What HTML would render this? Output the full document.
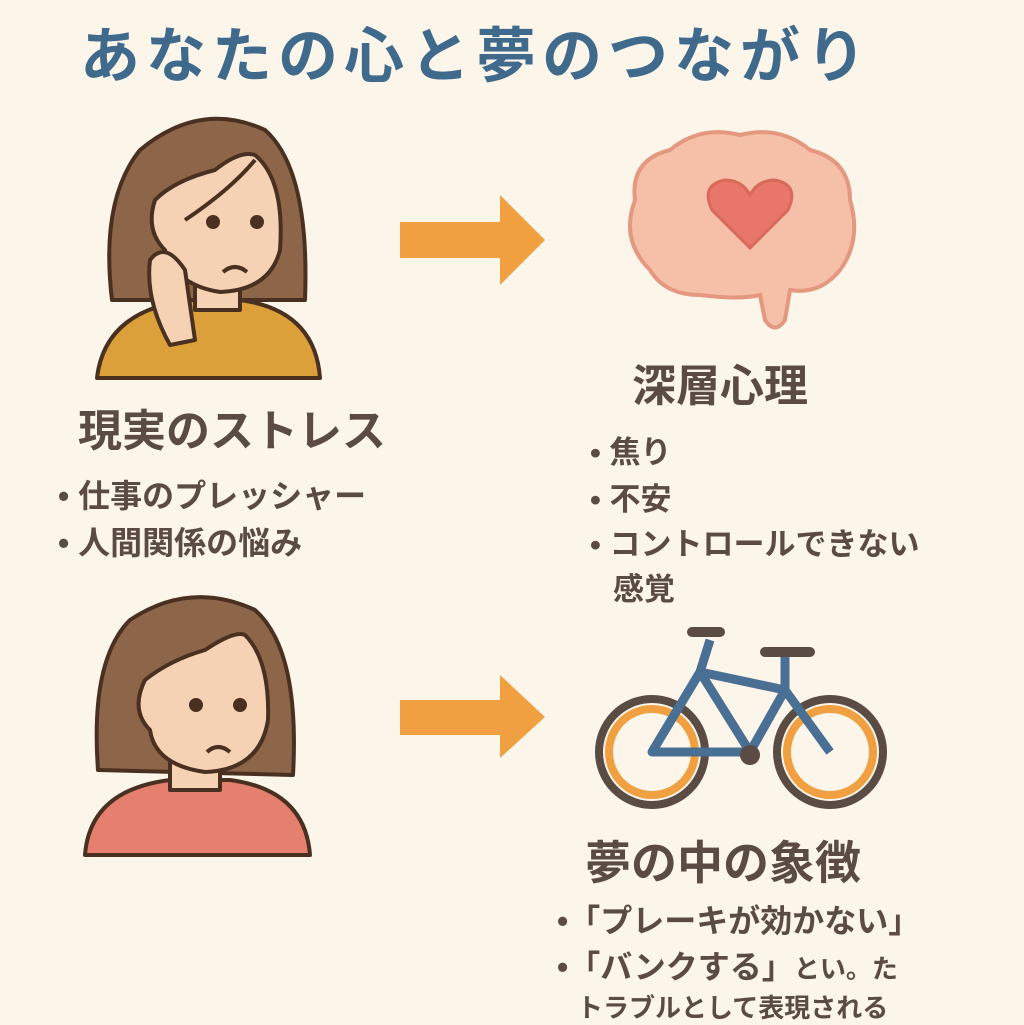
<!DOCTYPE html>
<html><head><meta charset="utf-8"><style>
body{margin:0;width:1024px;height:1024px;background:#fcf5ea;position:relative;overflow:hidden;font-family:"Liberation Sans","Noto Sans CJK JP",sans-serif;}
.t{position:absolute;white-space:nowrap;color:#5a4b44;font-weight:bold;}
</style></head><body>
<div class="t" style="left:80px;top:8px;font-size:60px;color:#3f6a8c;letter-spacing:6px">あなたの心と夢のつながり</div>

<svg width="1024" height="1024" style="position:absolute;left:0;top:0">
<g stroke="#4a3020" stroke-width="4" stroke-linejoin="round">
<path d="M112 300 Q100 200 140 150 Q200 100 265 130 Q310 170 305 300 Z" fill="#8d6548"/>
<path d="M97 378 Q105 310 190 300 L240 300 Q315 310 320 378 Z" fill="#dca03a"/>
<rect x="195" y="265" width="45" height="45" fill="#f6d2b4"/>
<path d="M155 200 Q175 180 215 170 Q240 150 255 155 Q285 180 280 250 Q270 290 220 292 Q175 285 165 250 Q145 230 155 200Z" fill="#f6d2b4"/>
<path d="M150 260 Q165 240 185 270 L195 340 L170 345 Q145 300 150 260Z" fill="#f6d2b4"/>
<path d="M185 220 Q230 190 255 160" fill="none"/>
<circle cx="213" cy="222" r="5" fill="#4a3020"/><circle cx="257" cy="222" r="5" fill="#4a3020"/>
<path d="M223 272 Q235 262 247 272" fill="none"/>
<path d="M98 770 Q90 660 130 620 Q190 580 255 610 Q300 650 293 775 Z" fill="#8d6548"/>
<path d="M85 855 Q90 790 170 780 L230 780 Q305 790 310 855 Z" fill="#e5806e"/>
<rect x="170" y="745" width="50" height="45" fill="#f6d2b4"/>
<path d="M145 680 Q170 660 205 650 Q235 630 245 635 Q270 660 268 720 Q260 770 205 772 Q155 765 150 730 Q130 710 145 680Z" fill="#f6d2b4"/>
<circle cx="196" cy="705" r="5" fill="#4a3020"/><circle cx="240" cy="705" r="5" fill="#4a3020"/>
<path d="M207 752 Q218 742 230 752" fill="none"/>
</g>
<path d="M400 222 H500 V195 L545 240 L500 285 V258 H400Z" fill="#f0a040"/>
<path d="M400 700 H500 V675 L545 717 L500 758 V735 H400Z" fill="#f0a040"/>
<path d="M650 270 Q620 240 635 200 Q630 160 670 150 Q700 125 740 135 Q780 125 810 150 Q850 160 850 200 Q862 240 840 270 Q820 295 790 290 L785 320 Q775 335 765 320 L760 295 Q740 300 700 295 Q665 295 650 270Z" fill="#f5bfa8" stroke="#e49880" stroke-width="4"/>
<path d="M750 248 L712 210 Q700 185 725 180 Q742 180 750 195 Q758 180 775 180 Q800 185 788 210 Z" fill="#e8766a" stroke="#d86a5c" stroke-width="3"/>
<g fill="none">
<circle cx="652" cy="752" r="53" stroke="#5a4b44" stroke-width="8"/><circle cx="652" cy="752" r="43" stroke="#f0a040" stroke-width="8"/>
<circle cx="830" cy="752" r="53" stroke="#5a4b44" stroke-width="8"/><circle cx="830" cy="752" r="43" stroke="#f0a040" stroke-width="8"/>
<path d="M652 752 L700 672 L785 690 L750 752 Z M700 672 L750 752 M785 690 L830 752 M710 640 L700 672 M785 655 L785 690" stroke="#4a6f94" stroke-width="9" stroke-linejoin="round"/>
<path d="M692 632 H720 M765 652 H810" stroke="#5a4b44" stroke-width="10" stroke-linecap="round"/>
</g>
<circle cx="750" cy="755" r="10" fill="#5a4b44"/>
</svg>

<div class="t" style="left:632px;top:350px;font-size:44px">深層心理</div>
<div class="t" style="left:78px;top:395px;font-size:44px">現実のストレス</div>
<div class="t" style="left:58px;top:471px;font-size:32px">• 仕事のプレッシャー</div>
<div class="t" style="left:58px;top:518px;font-size:32px">• 人間関係の悩み</div>
<div class="t" style="left:590px;top:427px;font-size:31px">• 焦り</div>
<div class="t" style="left:590px;top:474px;font-size:31px">• 不安</div>
<div class="t" style="left:590px;top:519px;font-size:31px">• コントロールできない</div>
<div class="t" style="left:613px;top:564px;font-size:31px">感覚</div>
<div class="t" style="left:585px;top:827px;font-size:46px">夢の中の象徴</div>
<div class="t" style="left:557px;top:896px;font-size:32px">•「プレーキが効かない」</div>
<div class="t" style="left:557px;top:942px;font-size:32px">•「バンクする」<span style="font-size:26px">とい。た</span></div>
<div class="t" style="left:577px;top:988px;font-size:26px">トラブルとして表現される</div>
</body></html>
